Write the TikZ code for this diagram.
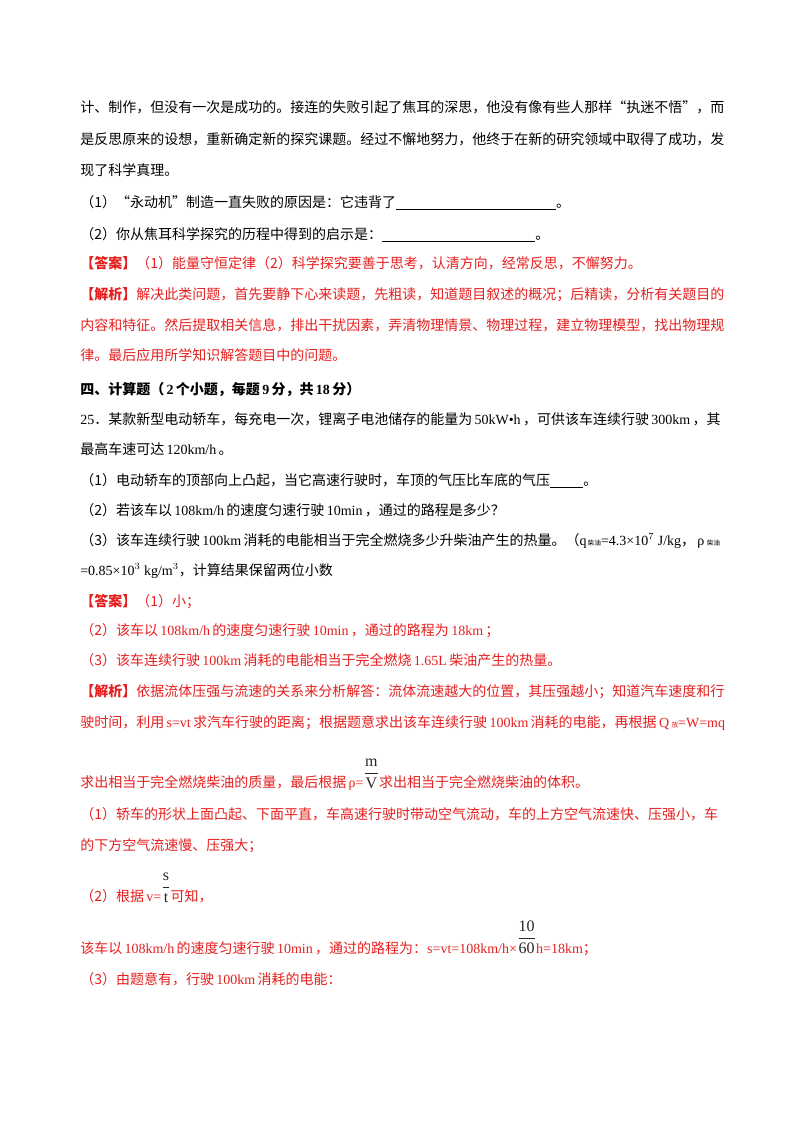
\documentclass[tikz,border=0pt]{standalone}
\usepackage{fontspec}
\setmainfont{Noto Sans CJK SC}
\newfontfamily\lat{Liberation Serif}
\newcommand{\rr}[1]{\,{\lat #1}\,}
\newcommand{\sm}[1]{{\tiny #1}}
\newcommand{\fr}[3]{\raisebox{#3}{\textcolor{black!85}{\fontsize{12}{12}\selectfont$\displaystyle\frac{\hbox{\lat #1}}{\hbox{\lat #2}}$}}}
\definecolor{ans}{RGB}{230,30,30}
\begin{document}
\begin{tikzpicture}[x=0.75pt,y=-0.75pt]
\tikzset{ln/.style={anchor=base west,inner sep=0,font=\fontsize{10.5}{12}\selectfont},
 red/.style={ln,text=ans}}
\useasboundingbox (0,0) rectangle (800,1132);
\node[ln] (l1) at (80,112) {计、制作，但没有一次是成功的。接连的失败引起了焦耳的深思，他没有像有些人那样“执迷不悟”，而};
\node[ln] (l2) at (80,144) {是反思原来的设想，重新确定新的探究课题。经过不懈地努力，他终于在新的研究领域中取得了成功，发};
\node[ln] (l3) at (80,175) {现了科学真理。};
\node[ln] (l4) at (80,207) {（1）“永动机”制造一直失败的原因是：它违背了\underline{\hspace{120pt}}。};
\node[ln] (l5) at (80,239) {（2）你从焦耳科学探究的历程中得到的启示是：\underline{\hspace{115pt}}。};
\node[red] (l6) at (80,268) {\textbf{【答案】}（1）能量守恒定律（2）科学探究要善于思考，认清方向，经常反思，不懈努力。};
\node[red] (l7) at (80,299) {\textbf{【解析】}解决此类问题，首先要静下心来读题，先粗读，知道题目叙述的概况；后精读，分析有关题目的};
\node[red] (l8) at (80,330) {内容和特征。然后提取相关信息，排出干扰因素，弄清物理情景、物理过程，建立物理模型，找出物理规};
\node[red] (l9) at (80,360) {律。最后应用所学知识解答题目中的问题。};
\node[ln] (l10) at (80,394) {\textbf{四、计算题（\rr{\bfseries 2}个小题，每题\rr{\bfseries 9}分，共\rr{\bfseries 18}分）}};
\node[ln] (l11) at (80,424) {{\lat 25}．某款新型电动轿车，每充电一次，锂离子电池储存的能量为\rr{50kW•h}，可供该车连续行驶\rr{300km}，其};
\node[ln] (l12) at (80,454) {最高车速可达\rr{120km/h}。};
\node[ln] (l13) at (80,485) {（1）电动轿车的顶部向上凸起，当它高速行驶时，车顶的气压比车底的气压\underline{\hspace{25pt}}。};
\node[ln] (l14) at (80,515) {（2）若该车以\rr{108km/h}的速度匀速行驶\rr{10min}，通过的路程是多少？};
\node[ln] (l15) at (80,545) {（3）该车连续行驶\rr{100km}消耗的电能相当于完全燃烧多少升柴油产生的热量。（{\lat q}\sm{\,柴油}{\lat =4.3×10$^7$ J/kg}，\rr{ρ}\sm{柴油}};
\node[ln] (l16) at (80,575) {{\lat =0.85×10$^3$ kg/m$^3$}，计算结果保留两位小数};
\node[red] (l17) at (80,606) {\textbf{【答案】}（1）小；};
\node[red] (l18) at (80,635) {（2）该车以\rr{108km/h}的速度匀速行驶\rr{10min}，通过的路程为\rr{18km}；};
\node[red] (l19) at (80,665) {（3）该车连续行驶\rr{100km}消耗的电能相当于完全燃烧\rr{1.65L}柴油产生的热量。};
\node[red] (l20) at (80,696) {\textbf{【解析】}依据流体压强与流速的关系来分析解答：流体流速越大的位置，其压强越小；知道汽车速度和行};
\node[red] (l21) at (80,727) {驶时间，利用\rr{s=vt}求汽车行驶的距离；根据题意求出该车连续行驶\rr{100km}消耗的电能，再根据\rr{Q}\sm{放}{\lat =W=mq}};
\node[red] (l22) at (80,787) {求出相当于完全燃烧柴油的质量，最后根据\,{\lat ρ=}\fr{m}{V}{7pt}求出相当于完全燃烧柴油的体积。};
\node[red] (l23) at (80,819) {（1）轿车的形状上面凸起、下面平直，车高速行驶时带动空气流动，车的上方空气流速快、压强小，车};
\node[red] (l24) at (80,850) {的下方空气流速慢、压强大；};
\node[red] (l25) at (80,901) {（2）根据\,{\lat v=}\fr{s}{t}{7pt}可知，};
\node[red] (l26) at (80,953) {该车以\rr{108km/h}的速度匀速行驶\rr{10min}，通过的路程为：{\lat s=vt=108km/h×}\fr{10}{60}{8pt}{\lat h=18km}；};
\node[red] (l27) at (80,984) {（3）由题意有，行驶\rr{100km}消耗的电能：};
\end{tikzpicture}
\end{document}
